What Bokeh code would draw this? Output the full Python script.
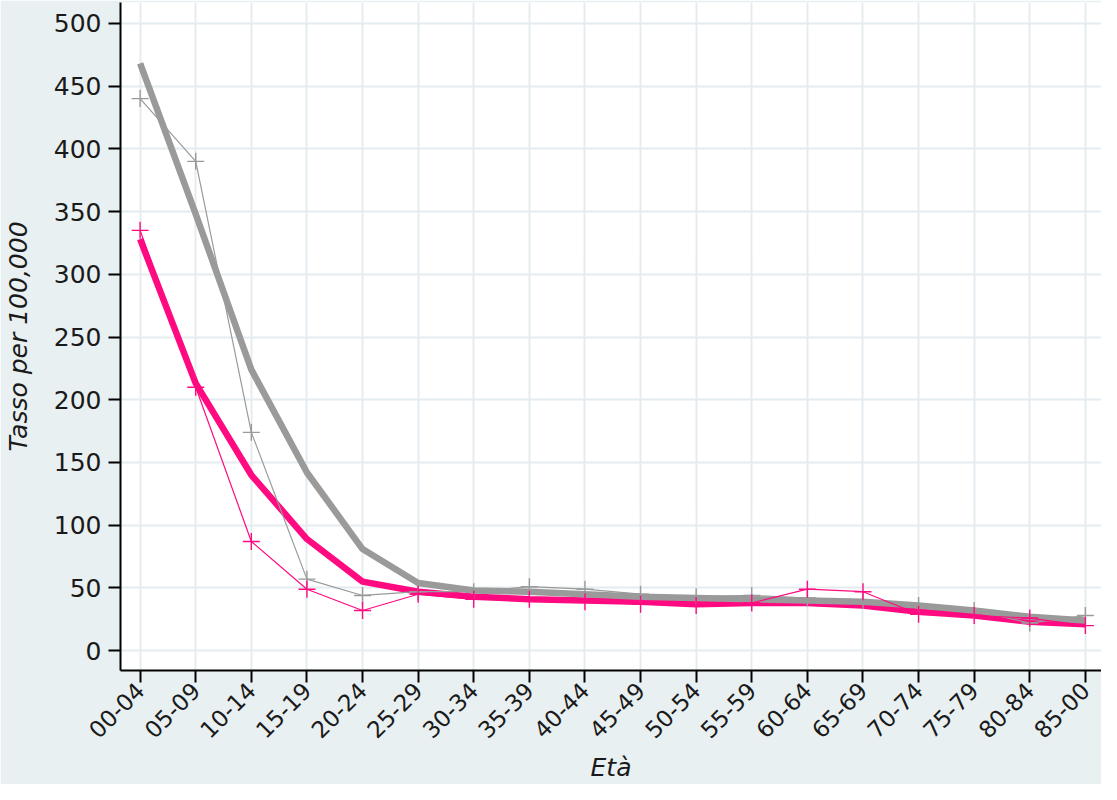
from bokeh.plotting import figure
from bokeh.embed import file_html
from bokeh.resources import INLINE
from bokeh.models import FixedTicker, ColumnDataSource
from math import pi

ages = ["00-04", "05-09", "10-14", "15-19", "20-24", "25-29", "30-34", "35-39",
        "40-44", "45-49", "50-54", "55-59", "60-64", "65-69", "70-74", "75-79",
        "80-84", "85-00"]
gray_obs = [440, 390, 174, 57, 44, 47, 47, 51, 49, 45, 43, 44, 42, 40, 36, 32, 22, 28]
pink_obs = [335, 210, 87, 49, 32, 45, 41, 41, 39, 37, 36, 38, 49, 47, 29, 28, 26, 20]
gray_fit = [468, 348, 224, 142, 81, 54, 48, 47, 45, 43, 42, 41, 40, 39, 36, 32, 27, 24]
pink_fit = [328, 213, 140, 89, 55, 47, 43, 41, 40, 39, 37, 38, 38, 36, 31, 28, 23, 21]
y_ticks = [0, 50, 100, 150, 200, 250, 300, 350, 400, 450, 500]

PINK = "#ff0a80"
GRAY = "#9a9a9a"
BG = "#e9f0f2"
GRID = "#e4ecef"
FONT = "DejaVu Sans"

xs = list(range(len(ages)))
src = ColumnDataSource(dict(x=xs, go=gray_obs, po=pink_obs, gf=gray_fit, pf=pink_fit))

p = figure(width=1101, height=784, output_backend="svg", toolbar_location=None,
           x_range=(-0.353, 17.29), y_range=(-15.8, 516.6),
           min_border_left=118, min_border_right=0, min_border_top=2,
           min_border_bottom=110)

p.background_fill_color = "white"
p.border_fill_color = BG
p.outline_line_color = None

# thick fitted lines
p.line("x", "pf", source=src, line_color=PINK, line_width=6.5)
p.line("x", "gf", source=src, line_color=GRAY, line_width=6.5)
# thin observed lines with cross markers
p.line("x", "go", source=src, line_color=GRAY, line_width=1.2)
p.scatter("x", "go", source=src, marker="cross", size=17, line_color=GRAY, line_width=1.4)
p.line("x", "po", source=src, line_color=PINK, line_width=1.2)
p.scatter("x", "po", source=src, marker="cross", size=17, line_color=PINK, line_width=1.4)

# axes
xa = p.xaxis[0]
xa.ticker = FixedTicker(ticks=xs)
xa.major_label_overrides = {i: a for i, a in enumerate(ages)}
xa.major_label_orientation = pi / 4
xa.axis_label = "Età"
ya = p.yaxis[0]
ya.ticker = FixedTicker(ticks=y_ticks)
ya.axis_label = "Tasso per 100,000"

for ax in (xa, ya):
    ax.axis_line_color = "black"
    ax.axis_line_width = 2
    ax.major_tick_line_color = "black"
    ax.major_tick_line_width = 2
    ax.major_tick_out = 12
    ax.major_tick_in = 0
    ax.minor_tick_line_color = None
    ax.major_label_text_font = FONT
    ax.major_label_text_color = "#1a1a1a"
    ax.axis_label_text_font = FONT
    ax.axis_label_text_font_style = "italic"
    ax.axis_label_text_color = "#1a1a1a"
    ax.axis_label_text_font_size = "25px"

ya.major_label_text_font_size = "25px"
ya.major_label_standoff = 7
ya.axis_label_standoff = 18
xa.major_label_text_font_size = "23px"
xa.major_label_standoff = 4
xa.axis_label_standoff = 4

p.xgrid.grid_line_color = GRID
p.xgrid.grid_line_width = 2
p.ygrid.grid_line_color = GRID
p.ygrid.grid_line_width = 2

open("out.html", "w").write(file_html(p, INLINE))
